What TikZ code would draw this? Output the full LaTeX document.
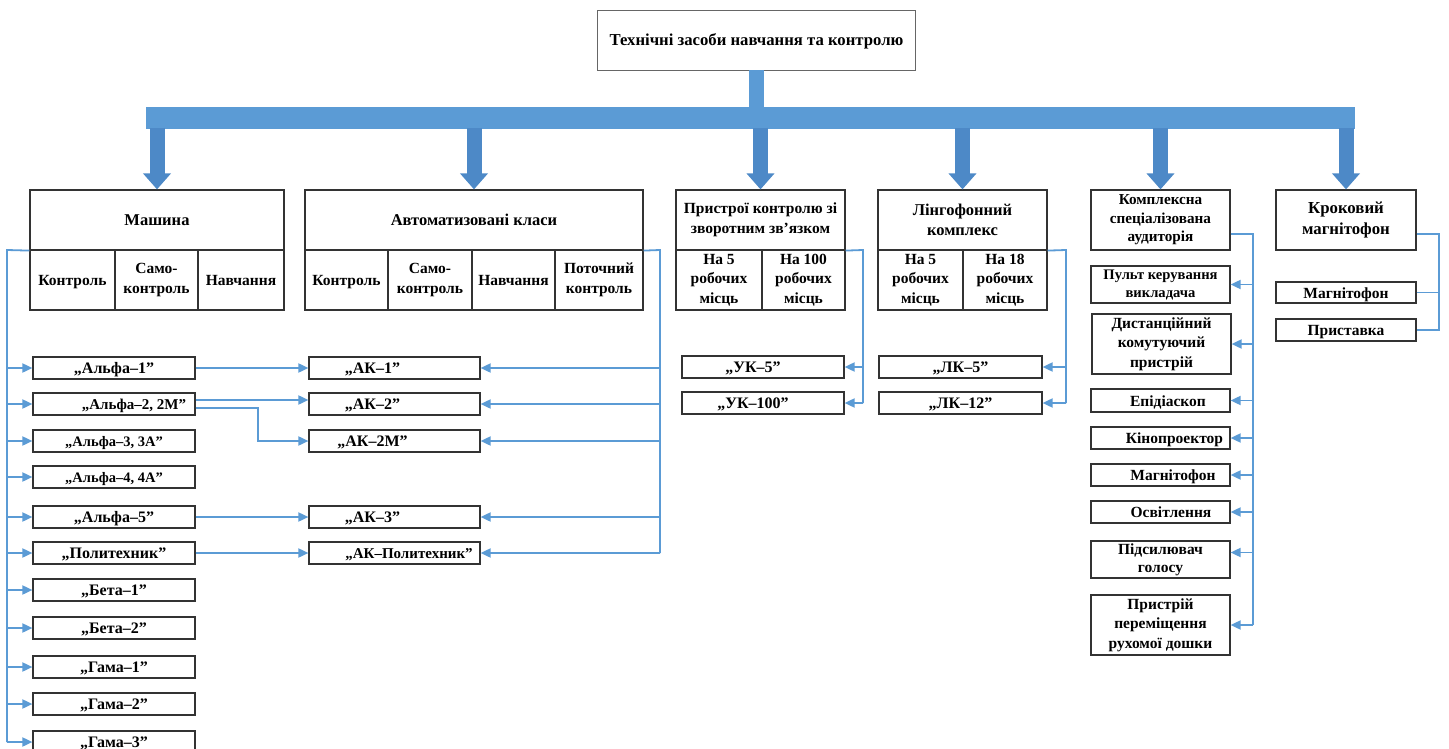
\documentclass[tikz,border=0pt]{standalone}
\usepackage{fontspec}
\setmainfont{Liberation Serif}
\usetikzlibrary{arrows.meta,calc}
\definecolor{busc}{HTML}{5B9BD5}
\definecolor{arrc}{HTML}{4D89C7}
\definecolor{linec}{HTML}{5B9BD5}
\definecolor{boxc}{HTML}{333333}
\newcommand\myfs[1]{\fontsize{#1}{19.5}\selectfont}
\begin{document}
\begin{tikzpicture}[x=1pt,y=-1pt,
  box/.style={draw=boxc,line width=1.2pt,fill=white,inner sep=1pt,align=center,font=\bfseries\myfs{15.5}},
  one/.style={text height=13pt,text depth=2pt},
  hdr/.style={box,minimum height=60pt},
  sub/.style={box,minimum height=60pt},
  item/.style={box,one,minimum width=162pt,minimum height=22pt,font=\bfseries\myfs{16}},
  conn/.style={draw=linec,line width=1.8pt},
  carr/.style={conn,-{Triangle[length=10pt,width=9pt]}},
  bigarr/.style={draw=arrc,line width=15pt,-{Triangle[length=16pt,width=27pt]}}
]
\useasboundingbox (0,0) rectangle (1449,749);
\fill[white] (0,0) rectangle (1449,749);

% top
\node[box,one,draw=gray!80!black,line width=0.9pt,minimum width=318pt,minimum height=60pt,font=\bfseries\myfs{16.7}] (top) at (756.5,40) {Технічні засоби навчання та контролю};

% bus
\coordinate (busL) at (146,118);
\coordinate (busR) at (1355,118);
\fill[busc] (146,107) rectangle (1355,129);
\draw[draw=busc,line width=15pt] (top.south) -- (top.south |- busL);

% headers
\node[hdr,one,minimum width=254pt,font=\bfseries\myfs{16.5}] (mash) at (157,220) {Машина};
\node[hdr,one,minimum width=338pt,font=\bfseries\myfs{16.5}] (avt) at (474,220) {Автоматизовані класи};
\node[hdr,minimum width=169pt] (pr) at (760.5,220) {Пристрої контролю зі\\зворотним зв'язком};
\node[hdr,minimum width=169pt,font=\bfseries\myfs{16.5}] (lin) at (962.5,220) {Лінгофонний\\комплекс};
\node[hdr,minimum width=139pt,font=\bfseries\fontsize{15.2}{18.5}\selectfont] (kom) at (1160.5,220) {Комплексна\\спеціалізована\\аудиторія};
\node[hdr,minimum width=140pt,font=\bfseries\fontsize{16.8}{21}\selectfont] (krok) at (1346,220) {Кроковий\\магнітофон};

% big arrows
\foreach \n in {mash,avt,pr,lin,kom,krok}{
  \draw[bigarr] (\n.north |- 0,128) -- (\n.north);
}

% sub cells
\node[sub,one,minimum width=85pt] (m1) at (72.5,280) {Контроль};
\node[sub,minimum width=83pt] (m2) at (156.5,280) {Само-\\контроль};
\node[sub,one,minimum width=86pt] (m3) at (241,280) {Навчання};
\node[sub,one,minimum width=83pt] (v1) at (346.5,280) {Контроль};
\node[sub,minimum width=84pt] (v2) at (430,280) {Само-\\контроль};
\node[sub,one,minimum width=83pt] (v3) at (513.5,280) {Навчання};
\node[sub,minimum width=88pt] (v4) at (599,280) {Поточний\\контроль};
\node[sub,minimum width=86pt] (p1) at (719,280) {На 5\\робочих\\місць};
\node[sub,minimum width=83pt] (p2) at (803.5,280) {На 100\\робочих\\місць};
\node[sub,minimum width=85pt] (l1) at (920.5,280) {На 5\\робочих\\місць};
\node[sub,minimum width=84pt] (l2) at (1005,280) {На 18\\робочих\\місць};

% left list
\node[item] (a1) at (114,368) {„Альфа–1”};
\node[item,font=\bfseries\myfs{15}] (a2) at (114,404) {\hspace*{40pt}„Альфа–2, 2М”};
\node[item,font=\bfseries\myfs{14.5}] (a3) at (114,441) {„Альфа–3, 3А”};
\node[item,font=\bfseries\myfs{14.5}] (a4) at (114,477) {„Альфа–4, 4А”};
\node[item] (a5) at (114,517) {„Альфа–5”};
\node[item] (apol) at (114,553) {„Политехник”};
\node[item] (b1) at (114,590) {„Бета–1”};
\node[item] (b2) at (114,628) {„Бета–2”};
\node[item] (g1) at (114,667) {„Гама–1”};
\node[item] (g2) at (114,704) {„Гама–2”};
\node[item] (g3) at (114,742) {„Гама–3”};

% AK list
\node[item,minimum width=171pt] (k1) at (394.5,368) {„АК–1”\hspace*{44pt}};
\node[item,minimum width=171pt] (k2) at (394.5,404) {„АК–2”\hspace*{44pt}};
\node[item,minimum width=171pt] (k2m) at (394.5,441) {„АК–2М”\hspace*{44pt}};
\node[item,minimum width=171pt] (k3) at (394.5,517) {„АК–3”\hspace*{44pt}};
\node[item,minimum width=171pt,font=\bfseries\myfs{15}] (kpol) at (394.5,553) {\hspace*{29pt}„АК–Политехник”};

% UK / LK
\node[item] (u5) at (763,367) {„УК–5”\hspace*{20pt}};
\node[item] (u100) at (763,403) {„УК–100”\hspace*{20pt}};
\node[item,minimum width=163pt] (lk5) at (960.5,367) {„ЛК–5”};
\node[item,minimum width=163pt] (lk12) at (960.5,403) {„ЛК–12”};

% Kompleksna children
\node[box,minimum width=139pt,minimum height=37pt,font=\bfseries\fontsize{14.6}{18}\selectfont] (c1) at (1160.5,284.5) {Пульт керування\\викладача};
\node[box,minimum width=139pt,minimum height=60pt] (c2) at (1161.5,344) {Дистанційний\\комутуючий\\пристрій};
\node[box,one,minimum width=139pt,minimum height=23pt] (c3) at (1160.5,400.5) {\hspace*{15pt}Епідіаскоп};
\node[box,one,minimum width=139pt,minimum height=22pt] (c4) at (1160.5,438) {\hspace*{28pt}Кінопроектор};
\node[box,one,minimum width=139pt,minimum height=22pt] (c5) at (1160.5,475) {\hspace*{25pt}Магнітофон};
\node[box,one,minimum width=139pt,minimum height=22pt] (c6) at (1160.5,512) {\hspace*{21pt}Освітлення};
\node[box,minimum width=139pt,minimum height=37pt,font=\bfseries\fontsize{15.5}{18}\selectfont] (c7) at (1160.5,559.5) {Підсилювач\\голосу};
\node[box,minimum width=139pt,minimum height=60pt] (c8) at (1160.5,625) {Пристрій\\переміщення\\рухомої дошки};

% Krokovyi children
\node[box,one,minimum width=140pt,minimum height=21pt] (r1) at (1346,292.5) {Магнітофон};
\node[box,one,minimum width=140pt,minimum height=22pt] (r2) at (1346,330) {Приставка};

% --- connectors ---
% Mashyna left rail
\coordinate (lv) at (7,250);
\draw[conn] (mash.south west) -- (lv) -- (lv |- g3.west);
\foreach \n in {a1,a2,a3,a4,a5,apol,b1,b2,g1,g2,g3}{
  \draw[carr] (lv |- \n.west) -- (\n.west);
}
% left -> AK
\draw[carr] (a1.east) -- (k1.west);
\draw[carr] ($(a2.east)+(0,-4)$) -- ($(k2.west)+(0,-4)$);
\coordinate (kx) at (258,0);
\draw[carr] ($(a2.east)+(0,4)$) coordinate (a2b) -- (a2b -| kx) |- (k2m.west);
\draw[carr] (a5.east) -- (k3.west);
\draw[carr] (apol.east) -- (kpol.west);

% Avt right rail
\coordinate (rv) at (660,250);
\draw[conn] (avt.south east) -- (rv) -- (rv |- kpol.east);
\foreach \n in {k1,k2,k2m,k3,kpol}{
  \draw[carr] (rv |- \n.east) -- (\n.east);
}
% Prystroi rail
\coordinate (pv) at (863,250);
\draw[conn] (pr.south east) -- (pv) -- (pv |- u100.east);
\foreach \n in {u5,u100}{
  \draw[carr] (pv |- \n.east) -- (\n.east);
}
% Lingofon rail
\coordinate (lnv) at (1066,250);
\draw[conn] (lin.south east) -- (lnv) -- (lnv |- lk12.east);
\foreach \n in {lk5,lk12}{
  \draw[carr] (lnv |- \n.east) -- (\n.east);
}
% Kompleksna rail
\coordinate (kv) at (1253,234);
\draw[conn] (kv -| kom.east) -- (kv) -- (kv |- c8.east);
\foreach \n in {c1,c2,c3,c4,c5,c6,c8}{
  \draw[carr] (kv |- \n.east) -- (\n.east);
}
\draw[carr] ($(kv |- c7.east)+(0,-7)$) -- ($(c7.east)+(0,-7)$);
% Krokovyi rail
\coordinate (rkv) at (1439,234);
\draw[conn] (rkv -| krok.east) -- (rkv) -- (rkv |- r2.east) -- (r2.east);
\draw[conn] (r1.east) -- (rkv |- r1.east);
\end{tikzpicture}
\end{document}
